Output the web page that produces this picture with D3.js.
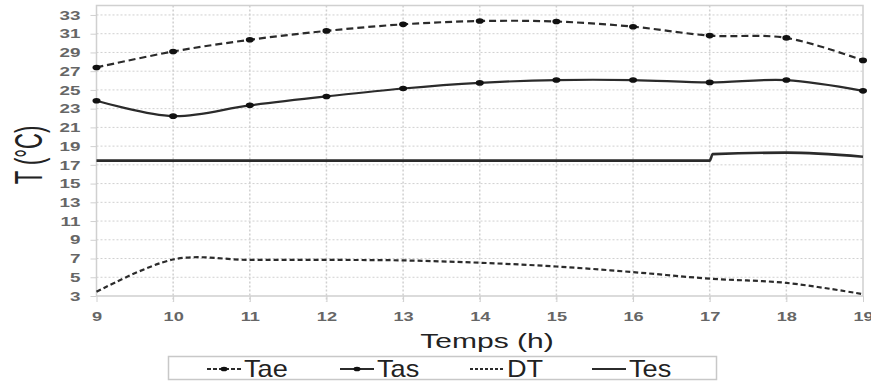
<html>
<meta charset="utf-8">
<script src="https://d3js.org/d3.v7.min.js"></script>
<style>
body { margin: 0; background: #fff; }
text { font-family: "Liberation Sans", Arial, sans-serif; }
</style>
<body>
<div id="chartContainer"></div>
<script type="text/javascript">

var WIDTH = 871;
var HEIGHT = 382;

// data
var hours = [9, 10, 11, 12, 13, 14, 15, 16, 17, 18, 19];
var tae = [27.4, 29.1, 30.35, 31.3, 32.0, 32.35, 32.3, 31.75, 30.8, 30.55, 28.15];
var tas = [23.85, 22.2, 23.35, 24.3, 25.15, 25.75, 26.05, 26.05, 25.8, 26.05, 24.9];
var dt = [3.45, 6.9, 6.85, 6.85, 6.8, 6.55, 6.15, 5.55, 4.85, 4.4, 3.2];
var tesHours = [9, 10, 11, 12, 13, 14, 15, 16, 17, 17.04, 18, 19];
var tes = [17.45, 17.45, 17.45, 17.45, 17.45, 17.45, 17.45, 17.45, 17.45, 18.15, 18.3, 17.87];
var yTicks = [3, 5, 7, 9, 11, 13, 15, 17, 19, 21, 23, 25, 27, 29, 31, 33];
var xTicks = [9, 10, 11, 12, 13, 14, 15, 16, 17, 18, 19];
var legendNames = ["Tae", "Tas", "DT", "Tes"];

var LINE = "#2b2b2b";
var GRID = "#d0d0d0";

var svg = d3.select("#chartContainer").append("svg")
    .attr("width", WIDTH)
    .attr("height", HEIGHT);

var x = d3.scaleLinear().domain([9, 19]).range([96.5, 863]);
var y = d3.scaleLinear().domain([3, 34]).range([296, 5.6]);

// grid
svg.append("g").selectAll("line")
    .data(yTicks.slice(1))
    .enter().append("line")
    .attr("x1", x(9)).attr("x2", x(19))
    .attr("y1", function (d) { return y(d); })
    .attr("y2", function (d) { return y(d); })
    .style("stroke", GRID).style("stroke-width", 1)
    .style("stroke-dasharray", "2,2");

svg.append("g").selectAll("line")
    .data(xTicks.slice(1, -1))
    .enter().append("line")
    .attr("y1", y(34)).attr("y2", y(3) + 6)
    .attr("x1", function (d) { return x(d); })
    .attr("x2", function (d) { return x(d); })
    .style("stroke", GRID).style("stroke-width", 1.5)
    .style("stroke-dasharray", "2,2");

// frame
svg.append("path")
    .attr("d", "M" + x(9) + "," + y(3) + "V" + y(34) + "H" + x(19) + "V" + y(3) + "H" + x(9))
    .style("fill", "none").style("stroke", GRID).style("stroke-width", 1.5);

// axes
var yAxis = svg.append("g")
    .attr("transform", "translate(" + x(9) + ",0)")
    .call(d3.axisLeft(y).tickValues(yTicks).tickSize(6).tickPadding(0));
yAxis.select(".domain").remove();
yAxis.selectAll("line").style("stroke", GRID);
yAxis.selectAll("text")
    .attr("x", 0)
    .attr("transform", "translate(-16,0) scale(1.45,1)")
    .style("font-size", "13px")
    .style("font-weight", "bold")
    .style("fill", "#666");

var xAxis = svg.append("g")
    .attr("transform", "translate(0," + y(3) + ")")
    .call(d3.axisBottom(x).tickValues(xTicks).tickSize(6).tickFormat(d3.format("d")));
xAxis.select(".domain").remove();
xAxis.selectAll("line").style("stroke", GRID);
xAxis.selectAll("text")
    .attr("y", 0)
    .attr("transform", "translate(0,16) scale(1.4,1)")
    .style("font-size", "13px")
    .style("font-weight", "bold")
    .style("fill", "#666");

svg.append("text")
    .attr("transform", "translate(487,348) scale(1.5,1)")
    .style("text-anchor", "middle")
    .style("font-size", "20px")
    .style("fill", "#222")
    .text("Temps (h)");

svg.append("text")
    .attr("transform", "translate(27.5,155) scale(1.8,1) rotate(-90)")
    .attr("dy", "0.36em")
    .style("text-anchor", "middle")
    .style("font-size", "22px")
    .style("fill", "#222")
    .text("T (°C)");

// series
var smooth = d3.line()
    .x(function (d) { return x(d[0]); })
    .y(function (d) { return y(d[1]); })
    .curve(d3.curveCardinal.tension(0));

function pairs(xs, ys) {
    return xs.map(function (h, i) { return [h, ys[i]]; });
}

svg.append("path")
    .datum(pairs(hours, dt))
    .attr("d", smooth)
    .style("fill", "none").style("stroke", LINE)
    .style("stroke-width", 2.2).style("stroke-dasharray", "5,3");

svg.append("path")
    .datum(pairs(tesHours, tes))
    .attr("d", smooth.curve(d3.curveMonotoneX))
    .style("fill", "none").style("stroke", LINE)
    .style("stroke-width", 2.6);
smooth.curve(d3.curveCardinal.tension(0));

svg.append("path")
    .datum(pairs(hours, tas))
    .attr("d", smooth)
    .style("fill", "none").style("stroke", LINE)
    .style("stroke-width", 2.2);

svg.append("path")
    .datum(pairs(hours, tae))
    .attr("d", smooth)
    .style("fill", "none").style("stroke", LINE)
    .style("stroke-width", 2.2).style("stroke-dasharray", "7,4");

[tas, tae].forEach(function (vals) {
    svg.append("g").selectAll("ellipse")
        .data(pairs(hours, vals))
        .enter().append("ellipse")
        .attr("cx", function (d) { return x(d[0]); })
        .attr("cy", function (d) { return y(d[1]); })
        .attr("rx", 4).attr("ry", 2.8)
        .style("fill", "#111");
});

// legend
svg.append("rect")
    .attr("x", 168.5).attr("y", 356.5)
    .attr("width", 548).attr("height", 23)
    .style("fill", "#fff").style("stroke", "#c8c8c8").style("stroke-width", 1.5);

var legX = [207, 340, 470, 592];
var legDash = ["4,2", null, "3,2", null];
var legDot = [true, true, false, false];

var leg = svg.append("g").selectAll("g")
    .data(legendNames)
    .enter().append("g")
    .attr("transform", function (d, i) { return "translate(" + legX[i] + ",369)"; });

leg.append("line")
    .attr("x1", 0).attr("x2", 34)
    .style("stroke", LINE).style("stroke-width", 2)
    .style("stroke-dasharray", function (d, i) { return legDash[i]; });

leg.filter(function (d, i) { return legDot[i]; })
    .append("ellipse")
    .attr("cx", 17).attr("rx", 3.5).attr("ry", 2.3)
    .style("fill", "#111");

leg.append("text")
    .attr("x", 0)
    .attr("transform", "translate(37,8) scale(1.18,1)")
    .style("font-size", "23px")
    .style("fill", "#222")
    .text(function (d) { return d; });

</script>
</body>
</html>
